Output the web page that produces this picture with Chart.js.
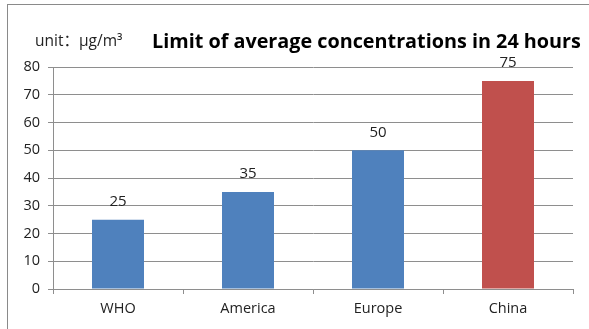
<!DOCTYPE html>
<html>
<head>
<meta charset="utf-8">
<script src="https://cdn.jsdelivr.net/npm/chart.js@4/dist/chart.umd.min.js"></script>
<style>
  html, body { margin: 0; padding: 0; background: #fff; overflow: hidden; }
  #wrap { position: relative; width: 589px; height: 329px; }
  #frame { position: absolute; left: 7px; top: 4px; width: 700px; height: 400px;
           border: 1px solid #8a8a8a; box-sizing: border-box; }
  canvas { position: absolute; left: 0; top: 0; }
</style>
</head>
<body>
<div id="wrap">
  <div id="frame"></div>
  <canvas id="chart" width="589" height="329"></canvas>
</div>
<script>
// 24-hour average concentration limits (PM2.5), µg/m³
const categories = ['WHO', 'America', 'Europe', 'China'];
const limits = [25, 35, 50, 75];
const barColors = ['#4F81BD', '#4F81BD', '#4F81BD', '#C0504D'];
const yTicks = [0, 10, 20, 30, 40, 50, 60, 70, 80];

const unitText = 'unit：μg/m³';
const titleText = 'Limit of average concentrations in 24 hours';

const FONT = '"Open Sans", "Noto Sans CJK SC", sans-serif';
const TEXT = '#222222';
const GRID = '#8e8e8e';

// Header line: unit note followed by the bold title
const headerPlugin = {
  id: 'header',
  afterDraw(chart) {
    const ctx = chart.ctx;
    ctx.save();
    ctx.textBaseline = 'middle';
    ctx.textAlign = 'left';
    ctx.fillStyle = TEXT;
    ctx.font = '15.5px ' + FONT;
    ctx.fillText(unitText, 35, 42);
    ctx.fillStyle = '#000';
    ctx.font = 'bold 19.8px ' + FONT;
    ctx.fillText(titleText, 152, 42);
    ctx.restore();
  }
};

// Value labels above each bar
const valueLabels = {
  id: 'valueLabels',
  afterDatasetsDraw(chart) {
    const ctx = chart.ctx;
    const meta = chart.getDatasetMeta(0);
    ctx.save();
    ctx.fillStyle = TEXT;
    ctx.font = '15px ' + FONT;
    ctx.textAlign = 'center';
    ctx.textBaseline = 'middle';
    meta.data.forEach((bar, i) => {
      ctx.fillText(String(limits[i]), bar.x, bar.y - 18);
    });
    ctx.restore();
  }
};

new Chart(document.getElementById('chart'), {
  type: 'bar',
  data: {
    labels: categories,
    datasets: [{
      data: limits,
      backgroundColor: barColors,
      borderWidth: 0,
      categoryPercentage: 1,
      barPercentage: 0.4
    }]
  },
  options: {
    responsive: false,
    animation: false,
    layout: { padding: { top: 67, right: 16, left: 0, bottom: 0 } },
    plugins: {
      legend: { display: false },
      title: { display: false },
      tooltip: { enabled: false }
    },
    scales: {
      x: {
        offset: true,
        grid: { display: true, drawOnChartArea: false, drawTicks: true, tickLength: 5, color: GRID, offset: true },
        border: { display: true, color: GRID, width: 1 },
        ticks: { color: TEXT, font: { family: FONT, size: 14.5 }, padding: 6 },
        afterFit(scale) { scale.height = 40; }
      },
      y: {
        min: 0,
        max: 80,
        afterBuildTicks(scale) { scale.ticks = yTicks.map(v => ({ value: v })); },
        grid: { color: GRID, drawTicks: true, tickLength: 5 },
        border: { display: true, color: GRID, width: 1 },
        ticks: { color: TEXT, font: { family: FONT, size: 14.5 }, padding: 8 },
        afterFit(scale) { scale.width = 53; }
      }
    }
  },
  plugins: [headerPlugin, valueLabels]
});
</script>
</body>
</html>
